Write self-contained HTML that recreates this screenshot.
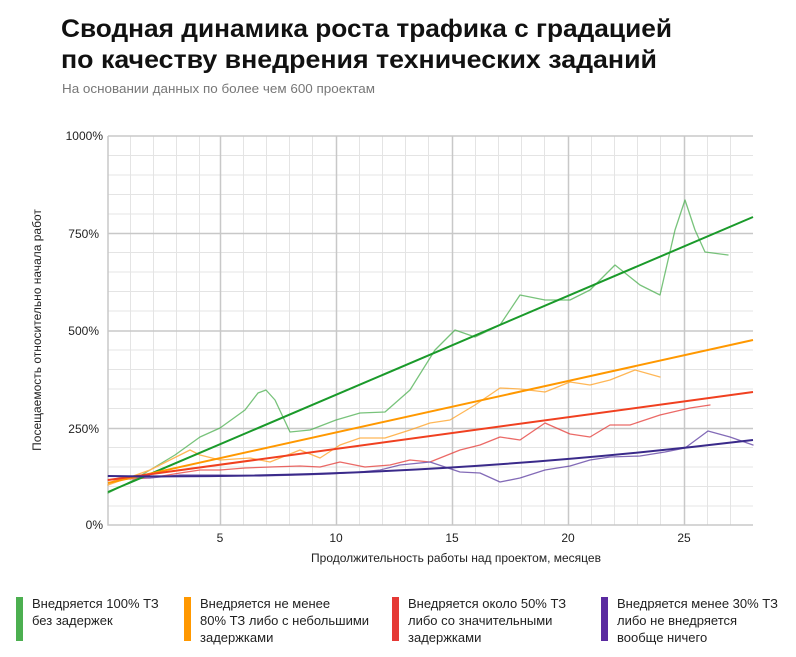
<!DOCTYPE html>
<html><head><meta charset="utf-8"><style>
html,body{margin:0;padding:0;background:#fff}
svg{display:block;font-family:"Liberation Sans",sans-serif}
</style></head><body>
<svg width="796" height="657" viewBox="0 0 796 657" xmlns="http://www.w3.org/2000/svg">
<rect width="796" height="657" fill="#fff"/>
<text x="61" y="37" font-size="25" font-weight="bold" fill="#111" textLength="611" lengthAdjust="spacingAndGlyphs">Сводная динамика роста трафика с градацией</text>
<text x="61" y="68" font-size="25" font-weight="bold" fill="#111" textLength="596" lengthAdjust="spacingAndGlyphs">по качеству внедрения технических заданий</text>
<text x="62" y="93" font-size="12.5" fill="#777" textLength="313" lengthAdjust="spacingAndGlyphs">На основании данных по более чем 600 проектам</text>
<g stroke="#e4e4e4" stroke-width="1" fill="none">
<path d="M108 155.5H753M108 175H753M108 194.5H753M108 214H753M108 252.5H753M108 272H753M108 291.5H753M108 311H753M108 350H753M108 369.5H753M108 389H753M108 408.5H753M108 447.5H753M108 467H753M108 486.5H753M108 506H753"/>
<path d="M130.5 136V525M153.5 136V525M176.5 136V525M199.5 136V525M243.5 136V525M266.5 136V525M289.5 136V525M312.5 136V525M359.5 136V525M382.5 136V525M405.5 136V525M428.5 136V525M475.5 136V525M498.5 136V525M521.5 136V525M544.5 136V525M591.5 136V525M614.5 136V525M637.5 136V525M660.5 136V525M707.5 136V525M730.5 136V525"/>
</g>
<g stroke="#c8c8c8" stroke-width="1.5" fill="none">
<path d="M108 136H753M108 233.5H753M108 331H753M108 428.5H753"/>
<path d="M220.5 136V525M336.5 136V525M452.5 136V525M568.5 136V525M684.5 136V525"/>
<path d="M108 136V525H753"/>
</g>
<g font-size="12" fill="#222">
<text x="103" y="140" text-anchor="end">1000%</text>
<text x="99" y="238" text-anchor="end">750%</text>
<text x="99" y="335" text-anchor="end">500%</text>
<text x="99" y="433" text-anchor="end">250%</text>
<text x="103" y="529" text-anchor="end">0%</text>
<text x="220" y="542" text-anchor="middle">5</text>
<text x="336" y="542" text-anchor="middle">10</text>
<text x="452" y="542" text-anchor="middle">15</text>
<text x="568" y="542" text-anchor="middle">20</text>
<text x="684" y="542" text-anchor="middle">25</text>
<text x="456" y="562" text-anchor="middle">Продолжительность работы над проектом, месяцев</text>
<text transform="translate(41 330) rotate(-90)" text-anchor="middle">Посещаемость относительно начала работ</text>
</g>
<g fill="none" stroke-linejoin="round" stroke-linecap="round" stroke-width="1.3" opacity="0.75">
<polyline stroke="#4caf50" points="108,493 130,482 150,470 175,455 200,437 220,428 245,410 258,393 266,390 275,400 290,432 310,430 336,420 360,413 385,412 410,390 435,350 455,330 475,337 500,325 520,295 545,300 570,300 590,290 615,265 640,285 660,295 675,230 685,200 695,230 705,252 728,255"/>
<polyline stroke="#ffa020" points="108,485 150,470 190,450 200,455 220,460 250,458 270,462 300,450 320,458 340,445 360,438 385,438 410,430 430,423 450,420 475,405 500,388 520,389 545,392 570,382 590,385 610,380 635,370 660,377"/>
<polyline stroke="#e53935" points="108,480 150,478 180,473 200,470 220,470 245,468 270,467 300,466 320,467 340,462 365,467 390,465 410,460 430,462 460,450 480,445 500,437 520,440 545,423 570,434 590,437 610,425 630,425 660,415 690,408 710,405"/>
<polyline stroke="#5a3aa0" points="108,476 150,478 180,475 220,475 260,476 300,475 330,474 360,472 380,470 400,465 430,462 460,472 480,473 500,482 520,478 545,470 570,466 590,460 610,457 640,456 665,452 685,448 708,431 730,437 753,445"/>
</g>
<g fill="none" stroke-width="2">
<path stroke="#1a9a2a" d="M108 492L753 217"/>
<path stroke="#ff9800" d="M108 483L753 340"/>
<path stroke="#f04020" d="M108 480L753 392"/>
<path stroke="#3a2a8a" d="M108 476Q420 480 753 440"/>
</g>
<rect x="16" y="597" width="7" height="44" fill="#4caf50"/>
<rect x="184" y="597" width="7" height="44" fill="#ff9800"/>
<rect x="392" y="597" width="7" height="44" fill="#e53935"/>
<rect x="601" y="597" width="7" height="44" fill="#5a2aa0"/>
<g font-size="13" fill="#222">
<text x="32" y="608">Внедряется 100% ТЗ</text><text x="32" y="625">без задержек</text>
<text x="200" y="608">Внедряется не менее</text><text x="200" y="625">80% ТЗ либо с небольшими</text><text x="200" y="642">задержками</text>
<text x="408" y="608">Внедряется около 50% ТЗ</text><text x="408" y="625">либо со значительными</text><text x="408" y="642">задержками</text>
<text x="617" y="608">Внедряется менее 30% ТЗ</text><text x="617" y="625">либо не внедряется</text><text x="617" y="642">вообще ничего</text>
</g>
</svg>
</body></html>
